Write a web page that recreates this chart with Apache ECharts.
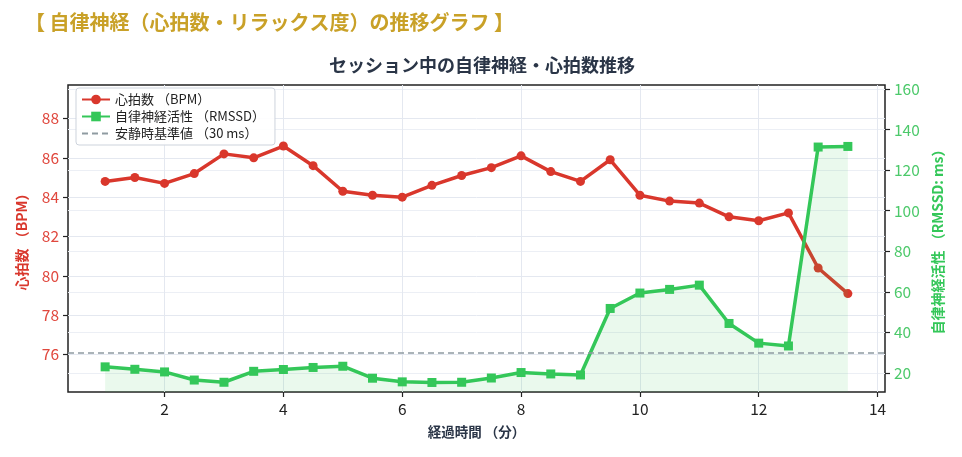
<!DOCTYPE html>
<html>
<head>
<meta charset="utf-8">
<script src="https://cdn.jsdelivr.net/npm/echarts@6/dist/echarts.min.js"></script>
<style>
  html, body { margin: 0; padding: 0; background: #fff; }
  #chart { width: 962px; height: 457px; }
</style>
</head>
<body>
<div id="chart"></div>
<script>
// 経過時間（分）
const minutes = [1, 1.5, 2, 2.5, 3, 3.5, 4, 4.5, 5, 5.5, 6, 6.5, 7, 7.5, 8, 8.5, 9, 9.5, 10, 10.5, 11, 11.5, 12, 12.5, 13, 13.5]
// 心拍数 (BPM)
const heartRate = [84.8, 85.0, 84.7, 85.2, 86.2, 86.0, 86.6, 85.6, 84.3, 84.1, 84.0, 84.6, 85.1, 85.5, 86.1, 85.3, 84.8, 85.9, 84.1, 83.8, 83.7, 83.0, 82.8, 83.2, 80.4, 79.1]
// 自律神経活性 RMSSD (ms)
const rmssd = [23.0, 21.8, 20.5, 16.5, 15.4, 20.8, 21.7, 22.7, 23.3, 17.4, 15.6, 15.3, 15.4, 17.5, 20.2, 19.5, 19.0, 51.8, 59.4, 61.2, 63.3, 44.4, 34.7, 33.3, 131.4, 131.7]
const baselineValue = 30

const xTicks = [2, 4, 6, 8, 10, 12, 14]
const hrTicks = [76, 78, 80, 82, 84, 86, 88]
const rmTicks = [20, 40, 60, 80, 100, 120, 140, 160]

const RED = '#d9372c'
const GREEN = '#34c759'
const GRAY = '#8f9ba1'
const FONT = 'Noto Sans CJK JP'

const chart = echarts.init(document.getElementById('chart'))

chart.setOption({
  animation: false,
  textStyle: { fontFamily: FONT },
  title: [
    {
      text: '【 自律神経（心拍数・リラックス度）の推移グラフ 】',
      left: 20, top: 7,
      textStyle: { color: '#c9a128', fontSize: 20, fontWeight: 'bold', fontFamily: FONT }
    },
    {
      text: 'セッション中の自律神経・心拍数推移',
      left: 477, top: 51, textAlign: 'center',
      textStyle: { color: '#2a3547', fontSize: 18, fontWeight: 'bold', fontFamily: FONT }
    }
  ],
  legend: {
    orient: 'vertical',
    left: 76, top: 88,
    padding: [5, 10, 5, 5],
    itemGap: 4,
    itemWidth: 28, itemHeight: 12,
    backgroundColor: 'rgba(255,255,255,0.9)',
    borderColor: '#cdd3dc', borderWidth: 1, borderRadius: 3,
    textStyle: { color: '#222', fontSize: 13, fontFamily: FONT },
    data: [
      '心拍数 （BPM）',
      '自律神経活性 （RMSSD）',
      { name: '安静時基準値 （30 ms）', itemStyle: { color: 'rgba(0,0,0,0)', borderWidth: 0 } }
    ]
  },
  grid: {
    left: 68, right: 77, top: 85, bottom: 65,
    show: true, borderColor: '#222', borderWidth: 1.5
  },
  xAxis: {
    type: 'value',
    min: 0.375, max: 14.125,
    splitNumber: 7,
    name: '経過時間 （分）',
    nameLocation: 'middle', nameGap: 33,
    nameTextStyle: { color: '#2a3547', fontSize: 13.5, fontWeight: 'bold' },
    axisLine: { show: false },
    axisTick: { customValues: xTicks, length: 5, lineStyle: { color: '#222', width: 1.2 } },
    axisLabel: { customValues: xTicks, color: '#222', fontSize: 15.5, margin: 9 },
    splitLine: { show: true, lineStyle: { color: '#e4e8f0', width: 1 } }
  },
  yAxis: [
    {
      type: 'value',
      min: 74.1, max: 89.7,
      splitNumber: 8,
      name: '心拍数 （BPM）',
      nameLocation: 'middle', nameGap: 39, nameRotate: 90,
      nameTextStyle: { color: RED, fontSize: 14, fontWeight: 'bold' },
      axisLine: { show: false },
      axisTick: { customValues: hrTicks, length: 5, lineStyle: { color: '#222', width: 1.2 } },
      axisLabel: { customValues: hrTicks, color: '#e0483e', fontSize: 15.5, margin: 9 },
      splitLine: { show: true, lineStyle: { color: '#e4e8f0', width: 1 } }
    },
    {
      type: 'value',
      position: 'right',
      min: 10.6, max: 162,
      splitNumber: 8,
      name: '自律神経活性 （RMSSD: ms）',
      nameLocation: 'middle', nameGap: 46, nameRotate: 90,
      nameTextStyle: { color: GREEN, fontSize: 14, fontWeight: 'bold' },
      axisLine: { show: false },
      axisTick: { customValues: rmTicks, length: 5, lineStyle: { color: '#222', width: 1.2 } },
      axisLabel: { customValues: rmTicks, color: '#4cc96a', fontSize: 15.5, margin: 9 },
      splitLine: { show: true, lineStyle: { color: '#eceff5', width: 1 } }
    }
  ],
  series: [
    {
      name: '心拍数 （BPM）',
      type: 'line',
      yAxisIndex: 0,
      z: 3,
      data: minutes.map((m, i) => [m, heartRate[i]]),
      symbol: 'circle', symbolSize: 9,
      lineStyle: { color: RED, width: 3.5 },
      itemStyle: { color: RED }
    },
    {
      name: '自律神経活性 （RMSSD）',
      type: 'line',
      yAxisIndex: 1,
      z: 4,
      data: minutes.map((m, i) => [m, rmssd[i]]),
      symbol: 'rect', symbolSize: 9,
      lineStyle: { color: GREEN, width: 3.5 },
      itemStyle: { color: GREEN },
      areaStyle: { color: 'rgba(52,199,89,0.15)', origin: 'start' }
    },
    {
      name: '安静時基準値 （30 ms）',
      type: 'line',
      yAxisIndex: 1,
      z: 2,
      data: [],
      symbol: 'none',
      lineStyle: { color: GRAY, width: 1.6, type: [6, 4] },
      itemStyle: { color: GRAY },
      markLine: {
        silent: true,
        symbol: ['none', 'none'],
        label: { show: false },
        lineStyle: { color: GRAY, width: 1.6, type: [6, 4] },
        data: [{ yAxis: baselineValue }]
      }
    }
  ]
})
</script>
</body>
</html>
